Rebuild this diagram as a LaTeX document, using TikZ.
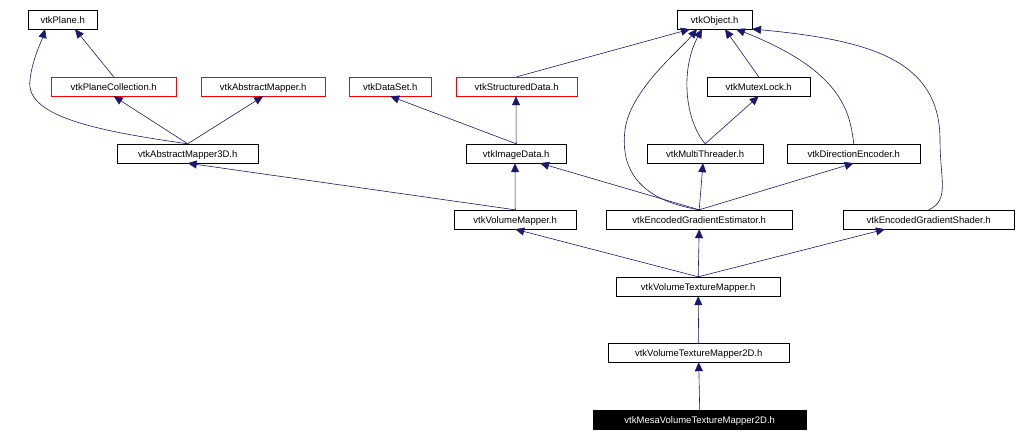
\documentclass[tikz,border=0pt]{standalone}
\usepackage{fontspec}
\setmainfont{Liberation Sans}
\usetikzlibrary{arrows.meta}
\definecolor{edge}{RGB}{25,25,112}
\tikzset{
  x=1pt,y=-1pt,
  box/.style={draw=black,fill=white,font=\fontsize{9.5}{11}\selectfont,inner sep=0pt,minimum height=19pt,anchor=west,text depth=0pt,text height=7pt},
  rbox/.style={box,draw=red},
  kbox/.style={box,fill=black,text=white},
  e/.style={draw=edge,-{Triangle[length=9pt,width=8pt]},line width=0.6pt},
}
\newcommand{\bx}[6]{\node[#1,minimum width=#4-#3] (#2) at (#3,#5) {#6};}
\begin{document}
\begin{tikzpicture}
\useasboundingbox (0,0) rectangle (1016,442);
\bx{box}{plane}{28}{97}{19.5}{vtkPlane.h}
\bx{box}{obj}{677}{752}{19.5}{vtkObject.h}
\bx{rbox}{pc}{51}{176}{86.5}{vtkPlaneCollection.h}
\bx{rbox}{am}{201}{325}{86.5}{vtkAbstractMapper.h}
\bx{rbox}{ds}{349}{431}{86.5}{vtkDataSet.h}
\bx{rbox}{sd}{456}{577}{86.5}{vtkStructuredData.h}
\bx{box}{ml}{707}{810}{86.5}{vtkMutexLock.h}
\bx{box}{am3}{117}{258}{153.5}{vtkAbstractMapper3D.h}
\bx{box}{id}{466}{566}{153.5}{vtkImageData.h}
\bx{box}{mt}{647}{763}{153.5}{vtkMultiThreader.h}
\bx{box}{de}{787}{920}{153.5}{vtkDirectionEncoder.h}
\bx{box}{vm}{454}{576}{219.5}{vtkVolumeMapper.h}
\bx{box}{ege}{606}{792}{219.5}{vtkEncodedGradientEstimator.h}
\bx{box}{egs}{843}{1014}{219.5}{vtkEncodedGradientShader.h}
\bx{box}{vtm}{616}{780}{286.5}{vtkVolumeTextureMapper.h}
\bx{box}{vtm2}{608}{789}{352.5}{vtkVolumeTextureMapper2D.h}
\bx{kbox}{mesa}{593}{806}{419.5}{vtkMesaVolumeTextureMapper2D.h}

\draw[e] (pc.north) -- (plane.south-|75,0);
\draw[e] (am3.north) .. controls (90,130) and (25,115) .. (30,80) .. controls (32,60) and (42,40) .. (45,29);
\draw[e] (am3.north) -- (pc.south);
\draw[e] (am3.north) -- (am.south);
\draw[e] (sd.north) -- (obj.south-|690,0);
\draw[e] (id.north) -- (ds.south);
\draw[e] (id.north) -- (sd.south-|516,0);
\draw[e] (ml.north) -- (obj.south-|725,0);
\draw[e] (mt.north) .. controls (685,120) and (680,70) .. (702,29);
\draw[e] (mt.north) -- (ml.south);
\draw[e] (de.north) .. controls (850,110) and (840,70) .. (736,29);
\draw[e] (ege.north) .. controls (640,200) and (620,170) .. (625,130) .. controls (630,90) and (680,50) .. (697,29);
\draw[e] (egs.north) .. controls (950,200) and (940,180) .. (940,140) .. controls (940,60) and (870,40) .. (752,29);
\draw[e] (vm.north) -- (am3.south);
\draw[e] (vm.north) -- (id.south-|515,0);
\draw[e] (ege.north) -- (id.south-|540,0);
\draw[e] (ege.north) -- (mt.south-|703,0);
\draw[e] (ege.north) -- (de.south);
\draw[e] (vtm.north) -- (vm.south);
\draw[e] (vtm.north) -- (ege.south);
\draw[e] (vtm.north) -- (egs.south-|885,0);
\draw[e] (vtm2.north) -- (vtm.south);
\draw[e] (mesa.north) -- (vtm2.south);
\end{tikzpicture}
\end{document}
